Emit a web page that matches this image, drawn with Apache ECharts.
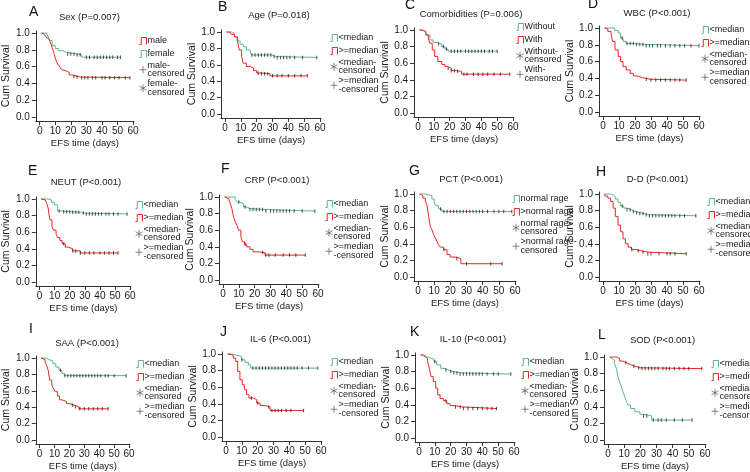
<!DOCTYPE html>
<html><head><meta charset="utf-8">
<script src="https://cdn.jsdelivr.net/npm/echarts@6/dist/echarts.min.js"></script>
<style>html,body{margin:0;padding:0;background:#fff}#c{width:750px;height:472px}</style>
</head><body><div id="c"></div>
<script>
// ---------- data (Kaplan-Meier step curves: [time, survival]) ----------
const xTicks = [0, 10, 20, 30, 40, 50, 60];
const yTicks = [0, 0.2, 0.4, 0.6, 0.8, 1.0];
const panelLetters = ['A','B','C','D','E','F','G','H','I','J','K','L'];
const panelTitles = ['Sex (P=0.007)','Age (P=0.018)','Comorbidities (P=0.006)','WBC (P<0.001)',
  'NEUT (P<0.001)','CRP (P<0.001)','PCT (P<0.001)','D-D (P<0.001)',
  'SAA (P<0.001)','IL-6 (P<0.001)','IL-10 (P<0.001)','SOD (P<0.001)'];

// A Sex
const A_male = [[1,1],[2,0.985],[3,0.97],[4,0.95],[5,0.93],[6,0.91],[7,0.88],[8,0.83],[9,0.77],[10,0.70],[11,0.65],[12,0.62],[13,0.59],[14,0.565],[15,0.55],[17,0.53],[19,0.50],[21,0.485],[24,0.475],[26.5,0.468],[58,0.468]];
const A_female = [[1,1],[4.5,0.98],[5.5,0.95],[6.5,0.91],[8,0.85],[10,0.815],[12,0.79],[15,0.77],[17,0.75],[24,0.74],[27,0.712],[52,0.712]];
const A_male_cens = [22,24,27,29,31,34,36,40,42,45,48,51,55,58];
const A_female_cens = [18,20,22,24,26,30,32,35,37,39,41,43,45,47,50,52];
// B Age
const B_low = [[1,1],[4,0.98],[6,0.94],[7.5,0.89],[9.5,0.85],[11.5,0.82],[13.5,0.78],[16,0.745],[17,0.72],[29.5,0.70],[32,0.69],[58,0.69]];
const B_high = [[1,1],[3,0.985],[4,0.97],[6,0.94],[8,0.88],[9,0.78],[10.5,0.70],[11.5,0.62],[13.5,0.58],[16,0.56],[18,0.53],[20,0.50],[23,0.49],[28.5,0.465],[52,0.465]];
const B_low_cens = [17,19,21,23,25,27,29,31,33,35,37,39,41,44,49,58];
const B_high_cens = [21,23,25,27,30,33,36,40,44,48,52];
// C Comorbidities
const C_without = [[1,1],[3,0.98],[5,0.94],[7.5,0.88],[9.5,0.85],[12.5,0.83],[15,0.80],[17,0.77],[19,0.745],[50,0.745]];
const C_with = [[1,1],[2.5,0.98],[5,0.94],[6.5,0.90],[7.5,0.84],[9,0.76],[10.5,0.68],[12.5,0.62],[15,0.585],[17,0.56],[18.5,0.54],[21,0.51],[25,0.50],[27.5,0.468],[58,0.468]];
const C_without_cens = [13,16,18,21,23,25,27,30,32,34,36,38,40,42,45,47,50];
const C_with_cens = [19,21,23,25,29,31,35,38,41,44,48,52,58];
// D WBC
const D_low = [[1,1],[7.3,0.97],[9.5,0.94],[11,0.88],[12.5,0.84],[14.5,0.815],[20,0.805],[26,0.79],[60,0.79]];
const D_high = [[1,1],[1.5,0.99],[3,0.96],[5,0.93],[6,0.84],[7.5,0.74],[9.5,0.66],[11,0.60],[12.5,0.54],[14.5,0.50],[17,0.46],[19,0.43],[21,0.41],[24.5,0.39],[29.5,0.38],[52,0.38]];
const D_low_cens = [12,15,17,19,21,23,25,27,29,31,34,36,39,42,45,48,51,55,60];
const D_high_cens = [27,30,33,36,39,42,45,48,52];
// E NEUT
const E_low = [[1,1],[5.7,0.99],[7.8,0.96],[9.8,0.93],[12,0.855],[15,0.847],[21,0.84],[27,0.83],[29.3,0.82],[58,0.82]];
const E_high = [[1,1],[2,0.99],[3.7,0.97],[4.7,0.95],[5.7,0.89],[6.8,0.75],[8.2,0.67],[9.2,0.625],[10.9,0.58],[12,0.535],[13.5,0.50],[15,0.46],[17,0.42],[19,0.40],[22,0.375],[27,0.35],[52,0.35]];
const E_low_cens = [13,16,18,20,22,24,26,29,31,33,35,37,39,41,44,46,49,52,58];
const E_high_cens = [16,22,24,27,30,33,36,40,43,46,49,52];
// F CRP
const F_low = [[1,1],[7.7,0.97],[8.8,0.94],[10.2,0.92],[13,0.88],[15,0.86],[17,0.85],[25.5,0.83],[58,0.83]];
const F_high = [[1,1],[1.9,0.98],[3.6,0.96],[4.6,0.92],[5.6,0.86],[6.7,0.76],[7.7,0.70],[8.8,0.66],[9.8,0.60],[11.3,0.52],[12.3,0.46],[13.6,0.43],[15,0.40],[17,0.37],[19,0.34],[21.3,0.33],[26.5,0.30],[52,0.30]];
const F_low_cens = [10,14,17,19,21,23,25,27,30,32,34,36,38,40,42,45,50,58];
const F_high_cens = [14,25,27,29,33,38,42,46,52];
// G PCT
const G_normal = [[1,1],[4.5,0.99],[6.6,0.98],[8.6,0.94],[10,0.89],[11,0.86],[12.7,0.82],[14.8,0.79],[58,0.79]];
const G_high = [[1,1],[1.4,0.98],[3,0.95],[4.5,0.92],[5.5,0.87],[6.6,0.73],[7.6,0.61],[8.6,0.57],[9.7,0.51],[10.7,0.47],[11.7,0.43],[12.7,0.39],[13.8,0.36],[15.8,0.33],[17.9,0.27],[19.9,0.24],[24,0.22],[26.5,0.16],[52,0.16]];
const G_normal_cens = [14,16,18,20,22,24,26,28,30,32,34,36,38,40,43,47,50,53,58];
const G_high_cens = [16,24,30,45,52];
// H D-D
const H_low = [[1,1],[4,0.99],[6.3,0.97],[7.7,0.94],[9.4,0.90],[11,0.855],[13,0.83],[15,0.81],[17.8,0.79],[20,0.775],[23,0.765],[26,0.75],[28,0.738],[58,0.738]];
const H_high = [[1,1],[1.2,0.975],[3,0.95],[4.8,0.91],[6.3,0.83],[7.7,0.73],[9.4,0.625],[11,0.545],[12.5,0.46],[14,0.40],[15.7,0.36],[17.8,0.33],[21,0.315],[24,0.30],[28,0.28],[52,0.28]];
const H_low_cens = [12,15,17,19,21,23,25,27,29,31,33,35,37,39,41,43,45,48,51,58];
const H_high_cens = [18,22,25,28,30,35,40,42,45,52];
// I SAA
const I_low = [[1,1],[4.7,0.98],[6.4,0.965],[8.9,0.93],[10.9,0.89],[13,0.85],[15,0.81],[16.7,0.785],[58,0.785]];
const I_high = [[1,1],[2.3,0.98],[3.7,0.95],[4.7,0.91],[5.8,0.85],[6.8,0.73],[8.2,0.67],[9.3,0.63],[10.5,0.59],[12,0.535],[13.4,0.49],[15,0.47],[18,0.445],[20,0.425],[23.3,0.405],[26.4,0.38],[46,0.38]];
const I_low_cens = [14,17,19,21,23,25,27,29,31,33,35,37,39,41,44,46,50,58];
const I_high_cens = [22,24,27,30,33,36,39,42,46];
// J IL-6
const J_low = [[1,1],[3.6,0.985],[6.7,0.97],[9.9,0.93],[12,0.90],[14.1,0.87],[15.6,0.83],[58,0.83]];
const J_high = [[1,1],[2.5,0.985],[4.6,0.95],[6.1,0.91],[7.4,0.79],[8.8,0.69],[10.3,0.63],[11.6,0.57],[13,0.51],[14.5,0.47],[17.3,0.45],[19.4,0.41],[21.5,0.38],[24.6,0.36],[27.8,0.32],[49,0.32]];
const J_low_cens = [10,17,19,21,23,25,27,29,31,33,35,37,39,41,43,45,48,52,58];
const J_high_cens = [16,20,27,29,31,33,35,38,41,49];
// K IL-10
const K_low = [[1,1],[2.7,0.98],[4.8,0.96],[8,0.95],[9.5,0.92],[11.2,0.88],[13.7,0.84],[15.8,0.82],[18.5,0.80],[21.7,0.785],[26,0.77],[58,0.77]];
const K_high = [[1,1],[2.3,0.98],[3.8,0.96],[5.3,0.93],[6.5,0.84],[7.6,0.74],[9,0.68],[10.5,0.60],[11.8,0.52],[13.3,0.475],[15.4,0.45],[17.5,0.415],[19.6,0.39],[22.7,0.375],[27,0.355],[49,0.355]];
const K_low_cens = [10,17,20,22,24,26,28,30,32,34,36,38,40,43,47,50,58];
const K_high_cens = [17,23,26,28,31,34,37,40,43,46,49];
// L SOD
const L_low = [[1,1],[1.2,0.98],[2.5,0.96],[4,0.92],[5.2,0.86],[6.2,0.76],[7.2,0.70],[8.3,0.64],[9.3,0.58],[10.4,0.52],[11.4,0.46],[12.4,0.42],[14,0.38],[16.6,0.34],[19.7,0.31],[21.7,0.29],[27,0.24],[52,0.24]];
const L_high = [[1,1],[5.2,0.98],[7.2,0.95],[9.3,0.93],[11.4,0.91],[14,0.89],[16.6,0.87],[19.7,0.86],[58,0.86]];
const L_low_cens = [22,24,28,31,33,36,41,46,52];
const L_high_cens = [11,16,19,21,23,25,27,29,31,34,36,38,41,44,47,50,58];

// legend labels
const medNames = ['<median', '>=median', '<median-\ncensored', '>=median\n-censored'];
const medNamesD = ['<median', '>=median', '<median-\ncensored', '>=median-\ncensored'];
const sexNames = ['female', 'male', 'female-\ncensored', 'male-\ncensored'];
const comorbNames = ['Without', 'With', 'Without-\ncensored', 'With-\ncensored'];
const pctNames = ['normal rage', '>normal rage', 'normal rage-\ncensored', '>normal rage-\ncensored'];

// per panel: green curve, red curve, green censored, red censored, names [green, red, greenCens, redCens]
const panels = [
  {g:A_female, r:A_male, gc:A_female_cens, rc:A_male_cens, names:sexNames, redFirst:true},
  {g:B_low, r:B_high, gc:B_low_cens, rc:B_high_cens, names:medNames},
  {g:C_without, r:C_with, gc:C_without_cens, rc:C_with_cens, names:comorbNames},
  {g:D_low, r:D_high, gc:D_low_cens, rc:D_high_cens, names:medNamesD},
  {g:E_low, r:E_high, gc:E_low_cens, rc:E_high_cens, names:medNames},
  {g:F_low, r:F_high, gc:F_low_cens, rc:F_high_cens, names:medNames},
  {g:G_normal, r:G_high, gc:G_normal_cens, rc:G_high_cens, names:pctNames},
  {g:H_low, r:H_high, gc:H_low_cens, rc:H_high_cens, names:medNames},
  {g:I_low, r:I_high, gc:I_low_cens, rc:I_high_cens, names:medNames},
  {g:J_low, r:J_high, gc:J_low_cens, rc:J_high_cens, names:medNames},
  {g:K_low, r:K_high, gc:K_low_cens, rc:K_high_cens, names:medNames},
  {g:L_low, r:L_high, gc:L_low_cens, rc:L_high_cens, names:medNames}
];

// ---------- layout (pixel positions of panels) ----------
// box: [x of day 0, x of day 60, y of 1.0, y of 0.0]
const layout = [
  {box:[35,133,33,117], leg:[137,35], letter:[29,12.5], title:[89.5,17]},
  {box:[225,320,32,114], leg:[328,32], letter:[218,7], title:[279,15.5]},
  {box:[418,513,30,113], leg:[514,21], letter:[405,5.5], title:[471,14]},
  {box:[603,699,28,112], leg:[699,24], letter:[588,4], title:[657,13.5]},
  {box:[32,130,199,282], leg:[133,199], letter:[28,171.5], title:[86,182]},
  {box:[223,318,197,280], leg:[323,198], letter:[221,169.5], title:[277,180.5]},
  {box:[418,515,194,277], leg:[510,193], letter:[409,171.5], title:[471,179.5]},
  {box:[603,699,194,277], leg:[705,196], letter:[596,172.5], title:[657.5,179.5]},
  {box:[32,129,358,440], leg:[134,358], letter:[29,329.5], title:[87,343]},
  {box:[226,321,354,437], leg:[328,356], letter:[220,332], title:[280.5,339]},
  {box:[419,514,355,438], leg:[519,356], letter:[410,332.5], title:[473,339]},
  {box:[608,705,357,440], leg:[709,358], letter:[598,335], title:[662.5,340.5]}
];

const FONT = '"Liberation Sans", Arial, sans-serif';
const RED = '#ee2622', GREEN = '#5cb68a', AX = '#333', TXT = '#1a1a1a', CENS = '#555';
const lineIcon = 'path://M0,9L2,9L2,1L8,1L8,9';
const starIcon = 'path://M5,0L5,10M0.7,2.5L9.3,7.5M0.7,7.5L9.3,2.5';
const plusIcon = 'path://M5,0L5,10M0,5L10,5';
const XMIN = -2.5, XMAX = 60.6, YMIN = -0.048, YMAX = 1.025;

function survAt(curve, t) {
  let s = curve[0][1];
  for (const p of curve) { if (p[0] <= t) s = p[1]; }
  return s;
}

const option = {
  animation: false, backgroundColor: '#fff',
  textStyle: {fontFamily: FONT},
  title: [], grid: [], xAxis: [], yAxis: [], legend: [], series: []
};

panels.forEach((p, i) => {
  const L = layout[i];
  const [x0, x60, y1, y0] = L.box;
  const ppd = (x60 - x0) / 60, ppu = y0 - y1;
  const left = x0 + XMIN * ppd, right = x0 + XMAX * ppd;
  const top = y1 - (YMAX - 1) * ppu, bottom = y0 - YMIN * ppu;
  option.grid.push({left: left, top: top, width: right - left, height: bottom - top, containLabel: false});
  option.xAxis.push({
    gridIndex: i, type: 'value', min: XMIN, max: XMAX,
    axisLine: {onZero: false, lineStyle: {color: AX, width: 1}},
    axisTick: {customValues: xTicks, length: 4, lineStyle: {color: AX}},
    axisLabel: {customValues: xTicks, margin: 5, fontSize: 10, color: TXT, fontFamily: FONT},
    splitLine: {show: false},
    name: 'EFS time (days)', nameLocation: 'middle', nameGap: 17,
    nameTextStyle: {fontSize: 9.5, color: TXT, fontFamily: FONT}
  });
  option.yAxis.push({
    gridIndex: i, type: 'value', min: YMIN, max: YMAX,
    axisLine: {show: true, onZero: false, lineStyle: {color: AX, width: 1}},
    axisTick: {show: true, customValues: yTicks, length: 4, lineStyle: {color: AX}},
    axisLabel: {customValues: yTicks, margin: 6, fontSize: 10, color: TXT, fontFamily: FONT,
      formatter: v => Number(v).toFixed(1)},
    splitLine: {show: false},
    name: 'Cum Survival', nameLocation: 'middle', nameGap: 19,
    nameTextStyle: {fontSize: 10.5, color: TXT, fontFamily: FONT}
  });
  option.title.push({text: panelLetters[i], left: L.letter[0], top: L.letter[1] - 7, padding: 0,
    textStyle: {fontSize: 14, fontWeight: 'normal', color: '#111', fontFamily: FONT}});
  option.title.push({text: panelTitles[i], left: L.title[0], top: L.title[1] - 5, textAlign: 'center', padding: 0,
    textStyle: {fontSize: 9.5, fontWeight: 'normal', color: TXT, fontFamily: FONT}});

  const [gN, rN, gcN, rcN] = p.names;
  const gItem = {name: gN, icon: lineIcon, itemStyle: {color: 'none', borderColor: GREEN, borderWidth: 1}};
  const rItem = {name: rN, icon: lineIcon, itemStyle: {color: 'none', borderColor: RED, borderWidth: 1}};
  const gcItem = {name: gcN, icon: starIcon, itemStyle: {color: 'none', borderColor: CENS, borderWidth: 0.9}};
  const rcItem = {name: rcN, icon: plusIcon, itemStyle: {color: 'none', borderColor: CENS, borderWidth: 0.9}};
  option.legend.push({
    orient: 'vertical', left: L.leg[0], top: L.leg[1], padding: 0, itemGap: 1,
    itemWidth: 7, itemHeight: 8, selectedMode: false,
    textStyle: {fontSize: 9, lineHeight: 8.5, color: TXT, fontFamily: FONT, padding: [0, 0, 0, -4]},
    data: p.redFirst ? [rItem, gItem, rcItem, gcItem] : [gItem, rItem, gcItem, rcItem]
  });

  option.series.push({type: 'line', name: gN, xAxisIndex: i, yAxisIndex: i, data: p.g, step: 'end',
    symbol: 'none', showSymbol: false, lineStyle: {color: GREEN, width: 1}, itemStyle: {color: GREEN}, z: 2, silent: true});
  option.series.push({type: 'line', name: rN, xAxisIndex: i, yAxisIndex: i, data: p.r, step: 'end',
    symbol: 'none', showSymbol: false, lineStyle: {color: RED, width: 1}, itemStyle: {color: RED}, z: 2, silent: true});
  option.series.push({type: 'scatter', name: gcN, xAxisIndex: i, yAxisIndex: i,
    data: p.gc.map(t => [t, survAt(p.g, t)]), symbol: 'rect', symbolSize: [1, 3.5],
    itemStyle: {color: '#222'}, z: 3, silent: true});
  option.series.push({type: 'scatter', name: rcN, xAxisIndex: i, yAxisIndex: i,
    data: p.rc.map(t => [t, survAt(p.r, t)]), symbol: 'rect', symbolSize: [1, 3.5],
    itemStyle: {color: '#222'}, z: 3, silent: true});
});

const chart = echarts.init(document.getElementById('c'), null, {renderer: 'canvas'});
chart.setOption(option);
</script>
</body></html>
